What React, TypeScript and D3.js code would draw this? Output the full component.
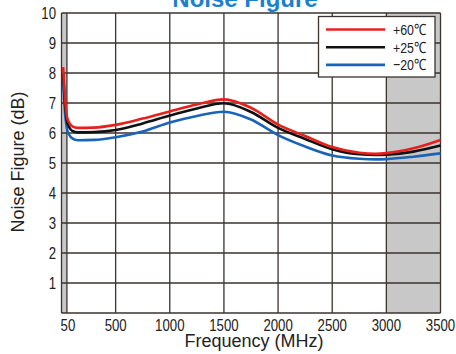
import React from "react";
import * as d3 from "d3";

const freqs = [15, 30, 50, 70, 100, 150, 300, 500, 750, 1000, 1250, 1500, 1750, 2000, 2250, 2500, 2750, 2900, 3000, 3250, 3500];
const nf60 = [8.2, 7.3, 6.55, 6.35, 6.22, 6.17, 6.18, 6.27, 6.48, 6.72, 6.95, 7.12, 6.84, 6.28, 5.9, 5.53, 5.34, 5.31, 5.33, 5.49, 5.77];
const nf25 = [8.0, 7.1, 6.4, 6.2, 6.07, 6.02, 6.03, 6.1, 6.32, 6.58, 6.82, 6.99, 6.7, 6.17, 5.8, 5.46, 5.29, 5.27, 5.28, 5.38, 5.58];
const nfm20 = [7.82, 6.8, 6.15, 5.95, 5.82, 5.76, 5.77, 5.86, 6.05, 6.35, 6.57, 6.71, 6.45, 5.93, 5.55, 5.25, 5.14, 5.12, 5.13, 5.21, 5.32];

const xTicks = [50, 500, 1000, 1500, 2000, 2500, 3000, 3500];
const yTicks = [1, 2, 3, 4, 5, 6, 7, 8, 9, 10];
const seriesNames = ["+60℃", "+25℃", "−20℃"];
const seriesColors = ["#e8201c", "#111111", "#1a64b8"];
const shaded = [[0, 50], [3000, 3500]];

const FONT = "'Liberation Sans', Arial, sans-serif";

function NText(props: { x: number; y: number; anchor?: string; size: number; children: any }) {
  return (
    <text
      transform={`translate(${props.x},${props.y}) scale(0.8,1)`}
      textAnchor={props.anchor || "start"}
      fontFamily={FONT}
      fontSize={props.size}
      fill="#222"
    >
      {props.children}
    </text>
  );
}

export default function App() {
  const W = 456, H = 354;
  const x = d3.scaleLinear().domain([0, 3500]).range([61.5, 440.5]);
  const y = d3.scaleLinear().domain([0, 10]).range([313, 13]);
  const series = [nf60, nf25, nfm20];
  const line = (vals: number[]) =>
    d3.line<number>().x((_, i) => x(freqs[i])).y((v) => y(v)).curve(d3.curveMonotoneX)(vals) || "";
  const gridColor = "#3a3330";
  const legX = 318.5, legY = 16.5;
  return (
    <svg width={W} height={H} style={{ position: "absolute", left: 0, top: 0, background: "#fff" }}>
      <text x={245} y={7} textAnchor="middle" fontFamily={FONT} fontWeight="bold" fontSize={24} fill="#1a80d0">Noise Figure</text>
      {shaded.map((s, i) => (
        <rect key={i} x={x(s[0])} y={y(10)} width={x(s[1]) - x(s[0])} height={y(0) - y(10)} fill="#c8c8c8" />
      ))}
      {yTicks.map((t) => (
        <line key={"h" + t} x1={x(0)} x2={x(3500)} y1={y(t)} y2={y(t)} stroke={gridColor} strokeWidth={1.3} />
      ))}
      {xTicks.map((t) => (
        <line key={"v" + t} x1={x(t)} x2={x(t)} y1={y(0)} y2={y(10)} stroke={gridColor} strokeWidth={1.3} />
      ))}
      <line x1={x(0)} x2={x(0)} y1={y(0)} y2={y(10)} stroke={gridColor} strokeWidth={1.3} />
      <line x1={x(0)} x2={x(3500)} y1={y(0)} y2={y(0)} stroke={gridColor} strokeWidth={1.3} />
      {[2, 1, 0].map((k) => (
        <path key={k} d={line(series[k])} fill="none" stroke={seriesColors[k]} strokeWidth={2.6} strokeLinejoin="round" />
      ))}
      {yTicks.map((t) => (
        <NText key={"yl" + t} x={56} y={y(t) + 6} anchor="end" size={16.5}>{t}</NText>
      ))}
      {xTicks.map((t) => (
        <NText key={"xl" + t} x={t === 50 ? x(t) + 1 : x(t)} y={331} anchor="middle" size={16.5}>{t}</NText>
      ))}
      <text x={254} y={347} textAnchor="middle" fontFamily={FONT} fontSize={18} fill="#222">Frequency (MHz)</text>
      <text transform={`translate(24,162) rotate(-90)`} textAnchor="middle" fontFamily={FONT} fontSize={18} fill="#222">Noise Figure (dB)</text>
      <rect x={legX} y={legY} width={116.5} height={60.5} fill="#fff" stroke={gridColor} strokeWidth={1.3} />
      {seriesNames.map((n, i) => (
        <g key={n}>
          <line x1={326} x2={385} y1={29.5 + i * 17.7} y2={29.5 + i * 17.7} stroke={seriesColors[i]} strokeWidth={2.6} />
          <NText x={393} y={34.8 + i * 17.7} size={15.5}>{n}</NText>
        </g>
      ))}
    </svg>
  );
}
